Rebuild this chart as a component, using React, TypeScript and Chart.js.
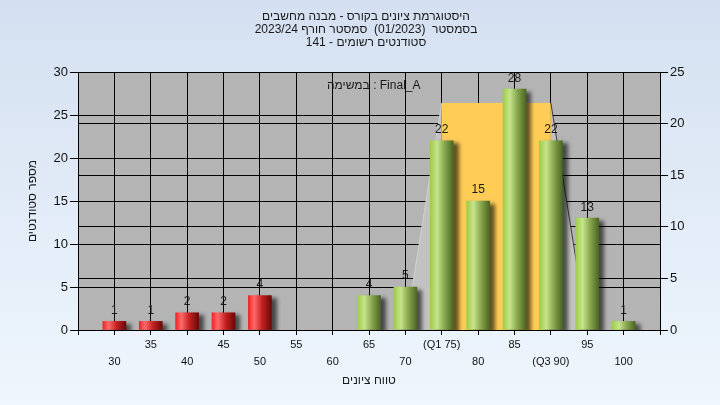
import React, { useEffect, useRef } from 'react';
import { Chart, registerables } from 'chart.js';

Chart.register(...registerables);

// ---------- data ----------
const titleLines = [
  'היסטוגרמת ציונים בקורס - מבנה מחשבים',
  'בסמסטר  (01/2023)  סמסטר חורף 2023/24',
  'סטודנטים רשומים - 141',
];
const legendText = 'במשימה : Final_A';
const xAxisTitle = 'טווח ציונים';
const yAxisTitle = 'מספר סטודנטים';

const failGrades = [30, 35, 40, 45, 50];
const failCounts = [1, 1, 2, 2, 4];
const passGrades = [65, 70, 75, 80, 85, 90, 95, 100];
const passCounts = [4, 5, 22, 15, 28, 22, 13, 1];

const quartileGrades = [75, 90];
const quartileLabels = ['(Q1 75)', '(Q3 90)'];
const whiskerGrades = [70, 95];
const boxHeightRight = [22];

const gradeRange = [25, 105];
const leftRange = [0, 30];
const rightRange = [0, 25];

const FONT = '"Liberation Sans", Arial, sans-serif';

const bgPlugin = {
  id: 'bg',
  beforeDraw(chart: any) {
    const { ctx, chartArea, width, height } = chart;
    ctx.save();
    const g = ctx.createLinearGradient(0, 0, 0, height);
    g.addColorStop(0, '#d4e0f1');
    g.addColorStop(1, '#eff6fd');
    ctx.fillStyle = g;
    ctx.fillRect(0, 0, width, height);
    ctx.fillStyle = '#b4b4b4';
    ctx.fillRect(chartArea.left, chartArea.top, chartArea.right - chartArea.left, chartArea.bottom - chartArea.top);
    ctx.restore();
  },
};

const boxPlugin = {
  id: 'quartBox',
  beforeDatasetsDraw(chart: any) {
    const { ctx, chartArea } = chart;
    const x = chart.scales.x;
    const yR = chart.scales.yR;
    const q1 = x.getPixelForValue(quartileGrades[0]);
    const q3 = x.getPixelForValue(quartileGrades[1]);
    const wl = x.getPixelForValue(whiskerGrades[0]);
    const wr = x.getPixelForValue(whiskerGrades[1]);
    const top = yR.getPixelForValue(boxHeightRight[0]);
    const base = yR.getPixelForValue(0);
    ctx.save();
    ctx.beginPath();
    ctx.rect(chartArea.left, chartArea.top, chartArea.right - chartArea.left, chartArea.bottom - chartArea.top);
    ctx.clip();
    ctx.fillStyle = '#c2c2c2';
    ctx.beginPath();
    ctx.moveTo(q1, top);
    ctx.lineTo(wl, base);
    ctx.lineTo(q1, base);
    ctx.closePath();
    ctx.fill();
    ctx.beginPath();
    ctx.moveTo(q3, top);
    ctx.lineTo(wr, base);
    ctx.lineTo(q3, base);
    ctx.closePath();
    ctx.fill();
    ctx.fillStyle = '#ffcc56';
    ctx.fillRect(q1, top, q3 - q1, base - top);
    ctx.strokeStyle = '#3a3a3a';
    ctx.lineWidth = 1;
    ctx.beginPath();
    ctx.moveTo(q3, top);
    ctx.lineTo(wr, base);
    ctx.stroke();
    ctx.strokeStyle = '#d0d0d0';
    ctx.beginPath();
    ctx.moveTo(q1, top);
    ctx.lineTo(wl, base);
    ctx.stroke();
    ctx.restore();
  },
};

const shadowPlugin = {
  id: 'barShadow',
  beforeDatasetsDraw(chart: any) {
    const ctx = chart.ctx;
    ctx.save();
    ctx.shadowColor = 'rgba(0,0,0,0.6)';
    ctx.shadowOffsetX = 5;
    ctx.shadowOffsetY = 3;
    ctx.shadowBlur = 4;
  },
  afterDatasetsDraw(chart: any) {
    chart.ctx.restore();
  },
};

const labelPlugin = {
  id: 'labels',
  afterDatasetsDraw(chart: any) {
    const { ctx } = chart;
    ctx.save();
    ctx.font = `12px ${FONT}`;
    ctx.fillStyle = '#1a1a1a';
    ctx.textAlign = 'center';
    ctx.textBaseline = 'middle';
    chart.data.datasets.forEach((ds: any, di: number) => {
      const meta = chart.getDatasetMeta(di);
      meta.data.forEach((el: any, i: number) => {
        const v = ds.data[i].y;
        if (!v) return;
        ctx.fillText(String(v), el.x, el.y - 11);
      });
    });
    ctx.restore();
  },
};

const textPlugin = {
  id: 'texts',
  afterDraw(chart: any) {
    const { ctx, chartArea } = chart;
    const cx = (chartArea.left + chartArea.right) / 2;
    const cy = (chartArea.top + chartArea.bottom) / 2;
    ctx.save();
    ctx.fillStyle = '#1a1a1a';
    ctx.textBaseline = 'middle';
    ctx.font = `12px ${FONT}`;
    ctx.direction = 'rtl';
    ctx.textAlign = 'center';
    const ys = [17, 30, 43];
    titleLines.forEach((t, i) => ctx.fillText(t, 366, ys[i]));
    ctx.fillText(xAxisTitle, cx, 381);
    ctx.direction = 'ltr';
    ctx.textAlign = 'left';
    ctx.fillText(legendText, 327, 86);
    ctx.translate(33, cy);
    ctx.rotate(-Math.PI / 2);
    ctx.direction = 'rtl';
    ctx.textAlign = 'center';
    ctx.fillText(yAxisTitle, 0, 0);
    ctx.restore();
  },
};

const barGradient = (chart: any, xv: number, stops: [number, string][]) => {
  const xs = chart.scales && chart.scales.x;
  if (!xs || !chart.chartArea) return stops[0][1];
  const px = xs.getPixelForValue(xv);
  const g = chart.ctx.createLinearGradient(px - 11.5, 0, px + 11.5, 0);
  stops.forEach(([o, c]) => g.addColorStop(o, c));
  return g;
};

const redStops: [number, string][] = [
  [0, '#f02424'],
  [0.25, '#ff6a6a'],
  [0.6, '#c42020'],
  [1, '#6a0808'],
];
const greenStops: [number, string][] = [
  [0, '#9ecc46'],
  [0.3, '#c6e48c'],
  [0.6, '#8dab52'],
  [1, '#4a6622'],
];

export default function App() {
  const ref = useRef<HTMLCanvasElement>(null);
  useEffect(() => {
    document.body.style.margin = '0';
    const canvas = ref.current!;
    const chart = new Chart(canvas, {
      type: 'bar',
      data: {
        datasets: [
          {
            data: failGrades.map((g, i) => ({ x: g, y: failCounts[i] })),
            backgroundColor: (c: any) => barGradient(c.chart, failGrades[c.dataIndex] ?? 30, redStops),
            barThickness: 23,
            grouped: false,
            yAxisID: 'y',
            borderWidth: 0,
          },
          {
            data: passGrades.map((g, i) => ({ x: g, y: passCounts[i] })),
            backgroundColor: (c: any) => barGradient(c.chart, passGrades[c.dataIndex] ?? 70, greenStops),
            barThickness: 23,
            grouped: false,
            yAxisID: 'y',
            borderWidth: 0,
          },
        ] as any,
      },
      options: {
        animation: false,
        responsive: false,
        devicePixelRatio: 1,
        layout: { padding: { top: 72, left: 0, right: 0, bottom: 0 } },
        plugins: { legend: { display: false }, title: { display: false }, tooltip: { enabled: false } },
        scales: {
          x: {
            type: 'linear',
            min: gradeRange[0],
            max: gradeRange[1],
            offset: false,
            afterFit: (s: any) => { s.height = 75; },
            grid: { color: '#000', lineWidth: 1, tickLength: 5, offset: false, drawOnChartArea: true },
            border: { color: '#000', width: 1 },
            ticks: {
              stepSize: 5,
              autoSkip: false,
              maxRotation: 0,
              minRotation: 0,
              padding: 1.5,
              color: '#111',
              font: { family: FONT, size: 11, lineHeight: '17px' } as any,
              callback: (v: any) => {
                const n = Number(v);
                if (n < 30 || n > 100) return '';
                const qi = quartileGrades.indexOf(n);
                const lbl = qi >= 0 ? quartileLabels[qi] : String(n);
                const idx = Math.round((n - 30) / 5);
                return idx % 2 === 0 ? ['', lbl] : [lbl];
              },
            },
          },
          y: {
            type: 'linear',
            position: 'left',
            min: leftRange[0],
            max: leftRange[1],
            afterFit: (s: any) => { s.width = 78; },
            grid: { color: '#000', lineWidth: 1, tickLength: 8 },
            border: { color: '#000', width: 1 },
            ticks: { stepSize: 5, padding: 2, color: '#111', font: { family: FONT, size: 13 } },
          },
          yR: {
            type: 'linear',
            position: 'right',
            min: rightRange[0],
            max: rightRange[1],
            afterFit: (s: any) => { s.width = 60; },
            grid: { color: '#000', lineWidth: 1, tickLength: 8, drawOnChartArea: true },
            border: { color: '#000', width: 1 },
            ticks: { stepSize: 5, padding: 2, color: '#111', font: { family: FONT, size: 13 } },
          },
        },
      } as any,
      plugins: [bgPlugin, boxPlugin, shadowPlugin, labelPlugin, textPlugin],
    });
    return () => chart.destroy();
  }, []);
  return <canvas ref={ref} width={720} height={405} style={{ display: 'block' }} />;
}
